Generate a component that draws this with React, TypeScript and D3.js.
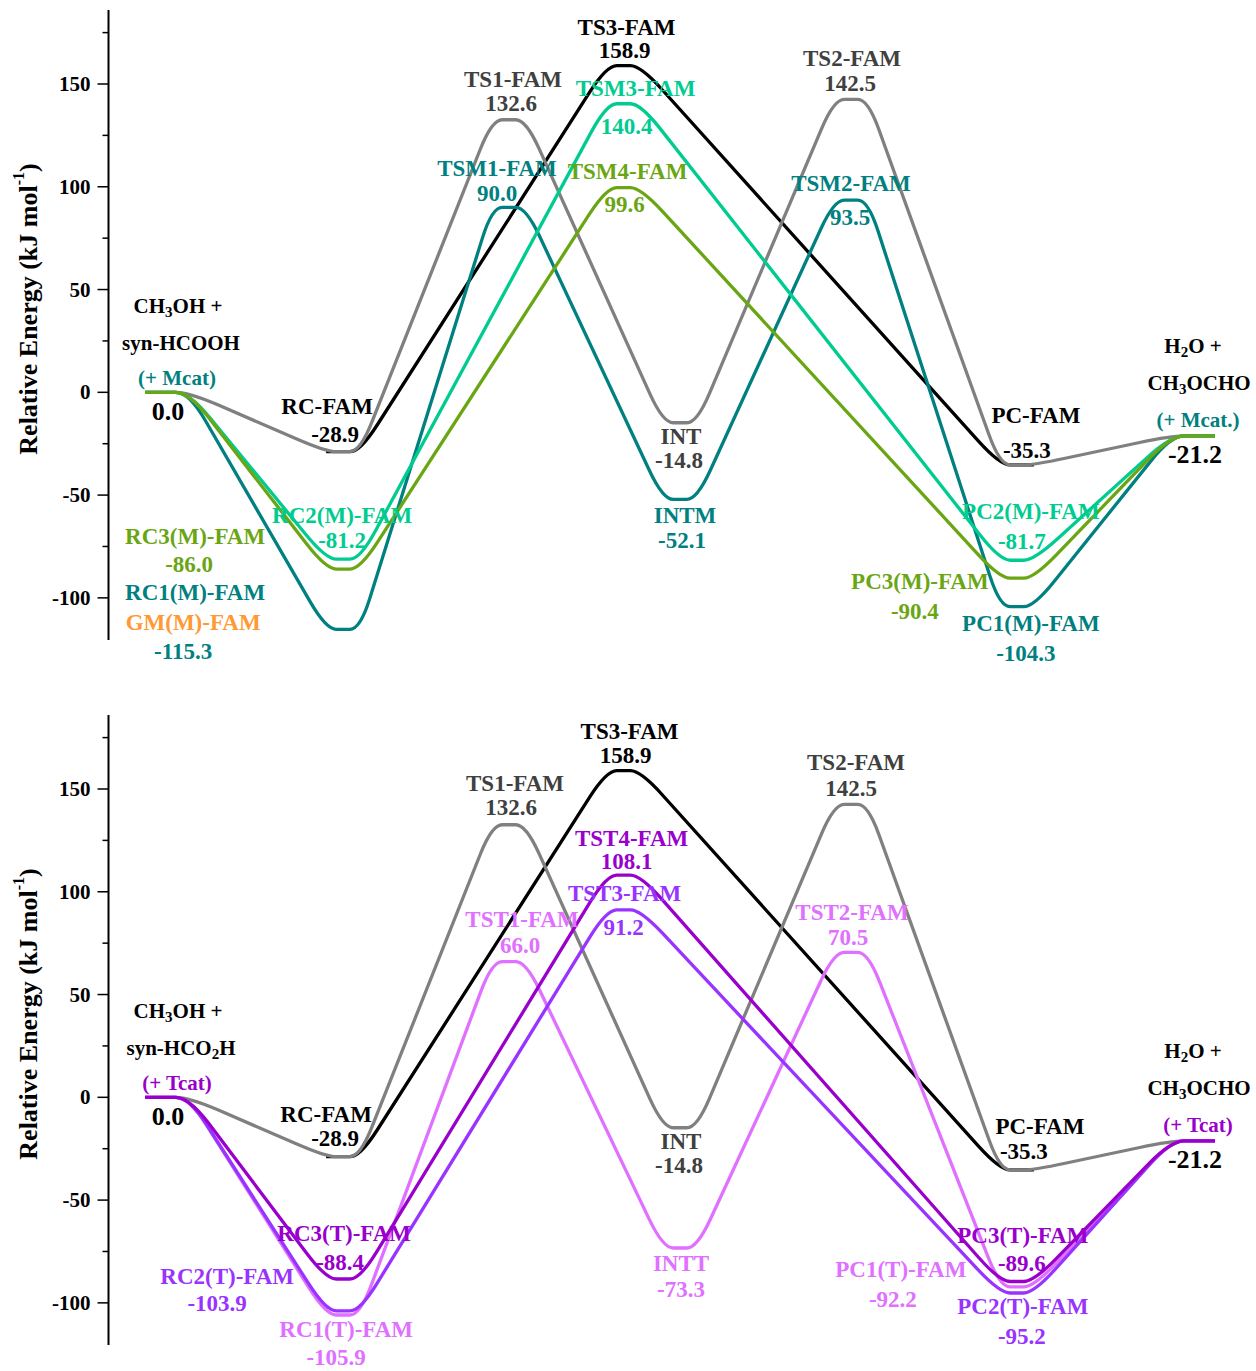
import React from "react";
import * as d3 from "d3";

const W = 1256;
const H = 1371;

// stationary points along the reaction coordinate
const stageKeys = ["R", "RC", "TS1", "TS3", "INT", "TS2", "PC", "P"];
const stageCoord = [0, 1.03, 2, 2.67, 3, 4, 4.97, 6];

const stepPath = ["R", "RC", "TS1", "INT", "TS2", "PC", "P"];
const concertPath = ["R", "RC", "TS3", "PC", "P"];
const ts3Path = ["RC", "TS3", "PC"];

// energies, kJ/mol
const famEnergy = [0.0, -28.9, 132.6, -14.8, 142.5, -35.3, -21.2];
const ts3Energy = [-28.9, 158.9, -35.3];
const m1Energy = [0.0, -115.3, 90.0, -52.1, 93.5, -104.3, -21.2];
const m2Energy = [0.0, -81.2, 140.4, -81.7, -21.2];
const m3Energy = [0.0, -86.0, 99.6, -90.4, -21.2];
const t1Energy = [0.0, -105.9, 66.0, -73.3, 70.5, -92.2, -21.2];
const t2Energy = [0.0, -103.9, 91.2, -95.2, -21.2];
const t3Energy = [0.0, -88.4, 108.1, -89.6, -21.2];

const famNames = ["", "RC-FAM", "TS1-FAM", "INT", "TS2-FAM", "PC-FAM", ""];
const ts3Names = ["", "TS3-FAM", ""];
const m1Names = ["", "RC1(M)-FAM", "TSM1-FAM", "INTM", "TSM2-FAM", "PC1(M)-FAM", ""];
const m2Names = ["", "RC2(M)-FAM", "TSM3-FAM", "PC2(M)-FAM", ""];
const m3Names = ["", "RC3(M)-FAM", "TSM4-FAM", "PC3(M)-FAM", ""];
const t1Names = ["", "RC1(T)-FAM", "TST1-FAM", "INTT", "TST2-FAM", "PC1(T)-FAM", ""];
const t2Names = ["", "RC2(T)-FAM", "TST3-FAM", "PC2(T)-FAM", ""];
const t3Names = ["", "RC3(T)-FAM", "TST4-FAM", "PC3(T)-FAM", ""];

const majorTicks = [-100, -50, 0, 50, 100, 150];
const minorTicks = [-75, -25, 25, 75, 125, 175];

const GRAY = "#808080";
const DARK = "#404040";
const TEAL = "#008080";
const MINT = "#00CC90";
const OLIVE = "#6AA614";
const ORANGE = "#FF9933";
const PINK = "#E070FF";
const VIOLET = "#9933FF";
const PURPLE = "#9900CC";

type Series = { key: string; stages: string[]; energy: number[]; names: string[]; color: string; text: string };
type Tag = { s: string; i: number; c?: string; n: [number, number]; v?: [number, number]; label?: string };

const famSeries: Series = { key: "fam", stages: stepPath, energy: famEnergy, names: famNames, color: GRAY, text: DARK };
const ts3Series: Series = { key: "ts3", stages: ts3Path, energy: ts3Energy, names: ts3Names, color: "#000", text: "#000" };

// drawing order: black first so the gray plateaus sit on top of it
const topSeries: Series[] = [
  ts3Series,
  famSeries,
  { key: "m1", stages: stepPath, energy: m1Energy, names: m1Names, color: TEAL, text: TEAL },
  { key: "m2", stages: concertPath, energy: m2Energy, names: m2Names, color: MINT, text: MINT },
  { key: "m3", stages: concertPath, energy: m3Energy, names: m3Names, color: OLIVE, text: OLIVE },
];

const bottomSeries: Series[] = [
  ts3Series,
  famSeries,
  { key: "t1", stages: stepPath, energy: t1Energy, names: t1Names, color: PINK, text: PINK },
  { key: "t2", stages: concertPath, energy: t2Energy, names: t2Names, color: VIOLET, text: VIOLET },
  { key: "t3", stages: concertPath, energy: t3Energy, names: t3Names, color: PURPLE, text: PURPLE },
];

// label offsets (px) from their stationary point
const topTags: Tag[] = [
  { s: "fam", i: 1, c: "#000", n: [-16, -45], v: [-8, -17] },
  { s: "fam", i: 2, n: [4, -40], v: [2, -16] },
  { s: "fam", i: 3, n: [1, 14], v: [-1, 38] },
  { s: "fam", i: 4, n: [1, -41], v: [-1, -16] },
  { s: "fam", i: 5, c: "#000", n: [19, -49], v: [10, -14] },
  { s: "ts3", i: 1, n: [3, -38], v: [1, -15] },
  { s: "m1", i: 1, n: [-148, -37], v: [-160, 22] },
  { s: "m1", i: 1, c: ORANGE, label: "GM(M)-FAM", n: [-150, -7] },
  { s: "m1", i: 2, n: [-12, -39], v: [-12, -14] },
  { s: "m1", i: 3, n: [5, 16], v: [2, 41] },
  { s: "m1", i: 4, n: [0, -17], v: [-1, 17] },
  { s: "m1", i: 5, n: [14, 17], v: [9, 47] },
  { s: "m2", i: 1, n: [-1, -44], v: [-1, -19] },
  { s: "m2", i: 2, n: [12, -15], v: [3, 23] },
  { s: "m2", i: 3, n: [14, -49], v: [5, -19] },
  { s: "m3", i: 1, n: [-148, -33], v: [-154, -5] },
  { s: "m3", i: 2, n: [4, -16], v: [1, 17] },
  { s: "m3", i: 3, n: [-97, 3], v: [-102, 33] },
];

const bottomTags: Tag[] = [
  { s: "fam", i: 1, c: "#000", n: [-17, -42], v: [-8, -18] },
  { s: "fam", i: 2, n: [6, -41], v: [2, -17] },
  { s: "fam", i: 3, n: [1, 14], v: [-1, 38] },
  { s: "fam", i: 4, n: [5, -42], v: [0, -16] },
  { s: "fam", i: 5, c: "#000", n: [23, -43], v: [7, -18] },
  { s: "ts3", i: 1, n: [6, -39], v: [2, -15] },
  { s: "t1", i: 1, n: [3, 15], v: [-7, 43] },
  { s: "t1", i: 2, n: [13, -42], v: [11, -16] },
  { s: "t1", i: 3, n: [1, 16], v: [1, 42] },
  { s: "t1", i: 4, n: [1, -40], v: [-3, -15] },
  { s: "t1", i: 5, n: [-116, -17], v: [-124, 13] },
  { s: "t2", i: 1, n: [-116, -34], v: [-126, -7] },
  { s: "t2", i: 2, n: [1, -16], v: [0, 18] },
  { s: "t2", i: 3, n: [6, 14], v: [5, 44] },
  { s: "t3", i: 1, n: [1, -46], v: [-3, -17] },
  { s: "t3", i: 2, n: [8, -37], v: [3, -14] },
  { s: "t3", i: 3, n: [6, -46], v: [5, -18] },
];

const FONT = "'Liberation Serif', 'Times New Roman', serif";

const xScale = d3.scaleLinear().domain([0, 6]).range([167, 1193]);
const stageX = (k: string) => xScale(stageCoord[stageKeys.indexOf(k)]);

function profilePath(s: Series, y: d3.ScaleLinear<number, number>) {
  const hw = 17, hwEnd = 22, R = 32;
  const pts: [number, number][] = [];
  s.stages.forEach((k, j) => {
    const x = stageX(k), yy = y(s.energy[j]);
    const h = k === "R" || k === "P" ? hwEnd : hw;
    pts.push([x - h, yy]);
    pts.push([x + h, yy]);
  });
  const p = d3.path();
  p.moveTo(pts[0][0], pts[0][1]);
  for (let i = 1; i < pts.length - 1; i++) {
    const [x0, y0] = pts[i - 1], [x1, y1] = pts[i], [x2, y2] = pts[i + 1];
    const l1 = Math.hypot(x1 - x0, y1 - y0), l2 = Math.hypot(x2 - x1, y2 - y1);
    const a = Math.min(R, l1 * 0.3), b = Math.min(R, l2 * 0.3);
    p.lineTo(x1 - ((x1 - x0) / l1) * a, y1 - ((y1 - y0) / l1) * a);
    p.quadraticCurveTo(x1, y1, x1 + ((x2 - x1) / l2) * b, y1 + ((y2 - y1) / l2) * b);
  }
  const e = pts[pts.length - 1];
  p.lineTo(e[0], e[1]);
  return p.toString();
}

function T({ x, y, c, size = 23, children }: { x: number; y: number; c: string; size?: number; children: React.ReactNode }) {
  return (
    <text x={x} y={y} fill={c} fontSize={size} textAnchor="middle" dominantBaseline="central">
      {children}
    </text>
  );
}

function Panel({ top, series, tags, cat, catColor, acid }: {
  top: number; series: Series[]; tags: Tag[]; cat: [string, string]; catColor: string; acid: React.ReactNode;
}) {
  const y = d3.scaleLinear().domain([-120.5, 186]).range([top + 630, top]);
  const byKey = new Map(series.map((s) => [s.key, s]));
  const axisX = 108.5;
  const rx = stageX("R"), ry = y(0);
  const px = stageX("P"), py = y(-21.2);
  return (
    <g>
      {/* y axis */}
      <line x1={axisX} x2={axisX} y1={y(-120.5)} y2={y(186)} stroke="#000" strokeWidth={2} />
      {majorTicks.map((t) => (
        <g key={t}>
          <line x1={axisX - 11} x2={axisX} y1={y(t)} y2={y(t)} stroke="#000" strokeWidth={1.5} />
          <text x={axisX - 18} y={y(t)} fontSize={21} textAnchor="end" dominantBaseline="central">{t}</text>
        </g>
      ))}
      {minorTicks.map((t) => (
        <line key={t} x1={axisX - 6} x2={axisX} y1={y(t)} y2={y(t)} stroke="#000" strokeWidth={1.5} />
      ))}
      <text transform={`translate(28,${top + 299}) rotate(-90)`} fontSize={26} textAnchor="middle" dominantBaseline="central">
        Relative Energy (kJ mol<tspan dy={-10} fontSize={16}>-1</tspan><tspan dy={10}>)</tspan>
      </text>

      {/* profiles */}
      {series.map((s) => (
        <path key={s.key} d={profilePath(s, y)} fill="none" stroke={s.color} strokeWidth={3.3} strokeLinejoin="round" />
      ))}

      {/* stationary point labels */}
      {tags.map((t, k) => {
        const s = byKey.get(t.s)!;
        const x0 = stageX(s.stages[t.i]), y0 = y(s.energy[t.i]);
        const c = t.c ?? s.text;
        return (
          <g key={k}>
            <T x={x0 + t.n[0]} y={y0 + t.n[1]} c={c}>{t.label ?? s.names[t.i]}</T>
            {t.v && (
              <T x={x0 + t.v[0]} y={y0 + t.v[1]} c={c}>{s.energy[t.i].toFixed(1)}</T>
            )}
          </g>
        );
      })}

      {/* reactants */}
      <T x={rx + 11} y={ry - 86} c="#000" size={21}>
        CH<tspan dy={6} fontSize={15}>3</tspan><tspan dy={-6}>OH +</tspan>
      </T>
      <T x={rx + 14} y={ry - 49} c="#000" size={21}>{acid}</T>
      <T x={rx + 10} y={ry - 14} c={catColor} size={21}>{cat[0]}</T>
      <T x={rx + 1} y={ry + 19} c="#000" size={26}>{(0).toFixed(1)}</T>

      {/* products */}
      <T x={px} y={py - 90} c="#000" size={21}>
        H<tspan dy={6} fontSize={15}>2</tspan><tspan dy={-6}>O +</tspan>
      </T>
      <T x={px + 6} y={py - 53} c="#000" size={21}>
        CH<tspan dy={6} fontSize={15}>3</tspan><tspan dy={-6}>OCHO</tspan>
      </T>
      <T x={px + 5} y={py - 16} c={catColor} size={21}>{cat[1]}</T>
      <T x={px + 2} y={py + 19} c="#000" size={26}>{(-21.2).toFixed(1)}</T>
    </g>
  );
}

export default function App() {
  return (
    <svg
      width={W}
      height={H}
      style={{ position: "absolute", left: 0, top: 0, background: "#fff" }}
      fontFamily={FONT}
      fontWeight="bold"
    >
      <rect width={W} height={H} fill="#fff" />
      <Panel
        top={10}
        series={topSeries}
        tags={topTags}
        cat={["(+ Mcat)", "(+ Mcat.)"]}
        catColor={TEAL}
        acid={<>syn-HCOOH</>}
      />
      <Panel
        top={715}
        series={bottomSeries}
        tags={bottomTags}
        cat={["(+ Tcat)", "(+ Tcat)"]}
        catColor={PURPLE}
        acid={<>syn-HCO<tspan dy={6} fontSize={15}>2</tspan><tspan dy={-6}>H</tspan></>}
      />
    </svg>
  );
}
